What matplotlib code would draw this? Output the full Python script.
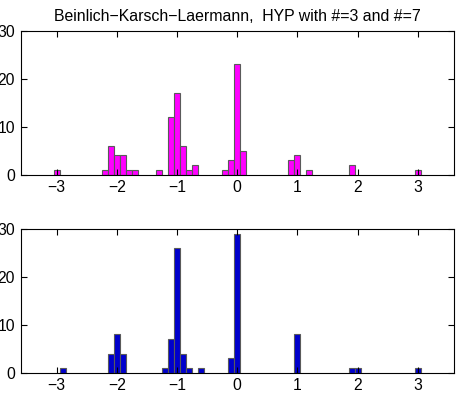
import numpy as np
import matplotlib
matplotlib.use("Agg")
import matplotlib.pyplot as plt

plt.rcParams['font.family'] = ['Liberation Sans', 'DejaVu Sans']
plt.rcParams['font.size'] = 11.3

title = "Beinlich\u2212Karsch\u2212Laermann,  HYP with #=3 and #=7"

# bin centres and counts, top histogram (#=3)
top_x = [-3.0, -2.2, -2.1, -2.0, -1.9, -1.8, -1.7, -1.3, -1.1, -1.0, -0.9, -0.8, -0.7,
         -0.2, -0.1, 0.0, 0.1, 0.9, 1.0, 1.2, 1.9, 3.0]
top_n = [1, 1, 6, 4, 4, 1, 1, 1, 12, 17, 6, 1, 2,
         1, 3, 23, 5, 3, 4, 1, 2, 1]

# bottom histogram (#=7)
bot_x = [-2.9, -2.1, -2.0, -1.9, -1.2, -1.1, -1.0, -0.9, -0.8, -0.6,
         -0.1, 0.0, 1.0, 1.9, 2.0, 3.0]
bot_n = [1, 4, 8, 4, 1, 7, 26, 4, 1, 1,
         3, 29, 8, 1, 1, 1]

xticks = [-3, -2, -1, 0, 1, 2, 3]
yticks = [0, 10, 20, 30]

fig = plt.figure(figsize=(4.58, 3.94), dpi=100)
ax1 = fig.add_axes([0.045, 0.5566, 0.946, 0.3655])
ax2 = fig.add_axes([0.045, 0.054, 0.946, 0.3655])

for ax, x, n, col in [(ax1, top_x, top_n, '#ff00ff'), (ax2, bot_x, bot_n, '#0000cc')]:
    ax.bar(x, n, width=0.1, color=col, edgecolor='#5a5a5a', linewidth=0.8)
    ax.set_xlim(-3.6, 3.6)
    ax.set_ylim(0, 30)
    ax.set_xticks(xticks)
    ax.set_xticklabels(['\u2212%d' % -t if t < 0 else str(t) for t in xticks])
    ax.set_yticks(yticks)
    ax.tick_params(direction='in', top=True, right=True, length=4, width=0.8, pad=4)
    for s in ax.spines.values():
        s.set_linewidth(0.8)

ax1.set_title(title, fontsize=11.4, pad=7)

fig.savefig('out.png', dpi=100)
